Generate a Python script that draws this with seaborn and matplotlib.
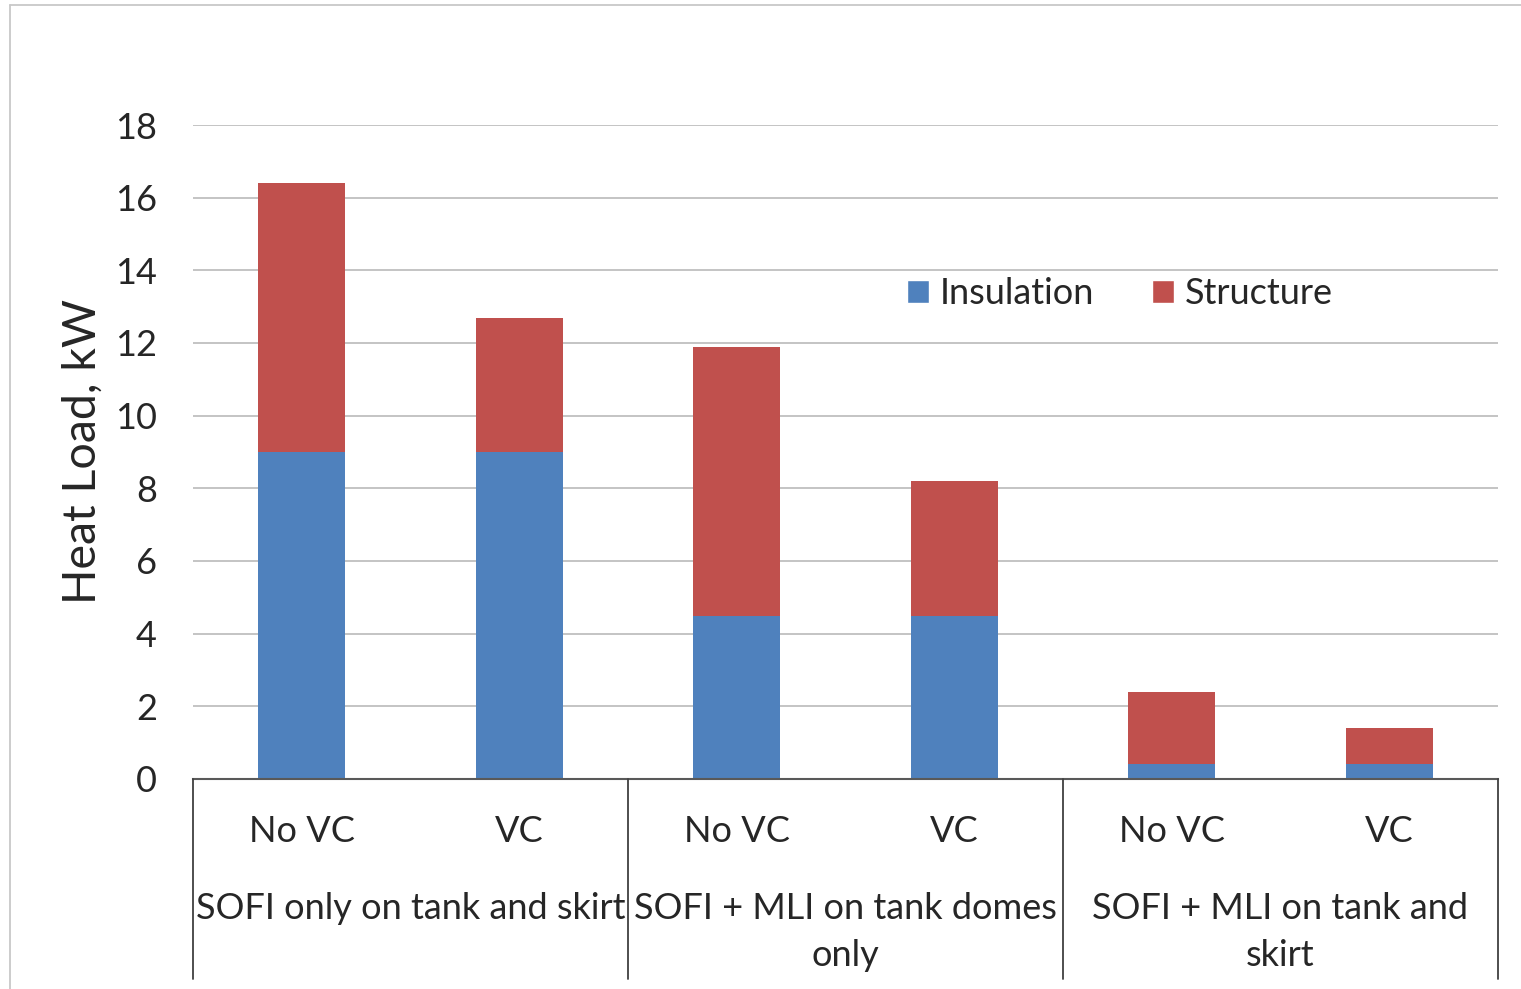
import pandas as pd
import matplotlib.pyplot as plt
import seaborn as sns
from matplotlib.transforms import blended_transform_factory
from matplotlib.patches import Patch
from matplotlib.lines import Line2D

# data
groups = ["SOFI only on tank and skirt", "SOFI + MLI on tank domes\nonly", "SOFI + MLI on tank and\nskirt"]
cases = ["No VC", "VC", "No VC", "VC", "No VC", "VC"]
insulation = [9.0, 9.0, 4.5, 4.5, 0.4, 0.4]
structure = [7.4, 3.7, 7.4, 3.7, 2.0, 1.0]
yticks = [0, 2, 4, 6, 8, 10, 12, 14, 16, 18]

blue = "#4F81BD"
red = "#C0504D"

sns.set_style("white")
plt.rcParams['font.family'] = ['Lato', 'DejaVu Sans']

df = pd.DataFrame({
    "bar": [f"{i}" for i in range(len(cases))],
    "case": cases,
    "Insulation": insulation,
    "Structure": structure,
})
df["total"] = df["Insulation"] + df["Structure"]

W, H = 1521, 989
fs = 26
fig = plt.figure(figsize=(W / 100, H / 100), dpi=100)
ax = fig.add_axes([193 / W, 1 - 779 / H, (1498 - 193) / W, (779 - 125) / H])

# stacked: totals in red, insulation on top in blue
sns.barplot(data=df, x="bar", y="total", color=red, width=0.4, saturation=1,
            edgecolor="none", ax=ax)
sns.barplot(data=df, x="bar", y="Insulation", color=blue, width=0.4, saturation=1,
            edgecolor="none", ax=ax)

ax.set_xlim(-0.5, 5.5)
ax.set_ylim(0, 18)
ax.set_yticks(yticks)
ax.set_yticklabels([str(t) for t in yticks], fontsize=fs)
ax.tick_params(axis="y", length=0, pad=26)
ax.set_xticks([])
ax.set_xlabel("")
ax.set_ylabel("Heat Load, kW", fontsize=33.5, labelpad=8)
ax.yaxis.grid(True, color="#BFBFBF", linewidth=1.3)
ax.set_axisbelow(True)
for s in ["left", "right", "top"]:
    ax.spines[s].set_visible(False)
ax.spines["bottom"].set_color("#595959")
ax.spines["bottom"].set_linewidth(1.5)

# category box under the axis
tr = blended_transform_factory(ax.transData, fig.transFigure)
y0 = 1 - 779 / H
y1 = 1 - 979 / H
for xb in [-0.5, 1.5, 3.5, 5.5]:
    fig.add_artist(Line2D([xb, xb], [y0, y1], transform=tr, color="#404040", lw=1.3))
for i, c in enumerate(cases):
    fig.text(i, 1 - 831 / H, c, transform=tr, ha="center", va="center", fontsize=fs)
for g, name in enumerate(groups):
    fig.text(2 * g + 0.5, 1 - 892 / H, name, transform=tr, ha="center", va="top",
             fontsize=fs, linespacing=1.52, multialignment="center")

# legend
handles = [Patch(facecolor=blue, label="Insulation"), Patch(facecolor=red, label="Structure")]
fig.legend(handles=handles, loc="center", bbox_to_anchor=(1120 / W, 1 - 294 / H),
           ncol=2, frameon=False, fontsize=fs, handlelength=0.6, handleheight=0.6,
           handletextpad=0.3, columnspacing=1.6)

# outer chart border (left and top)
fig.add_artist(Line2D([10 / W, 10 / W], [1 - 5 / H, 0], transform=fig.transFigure,
                      color="#C8C8C8", lw=1.3))
fig.add_artist(Line2D([10 / W, 1], [1 - 5 / H, 1 - 5 / H], transform=fig.transFigure,
                      color="#C8C8C8", lw=1.3))

fig.savefig("out.png", dpi=100)
